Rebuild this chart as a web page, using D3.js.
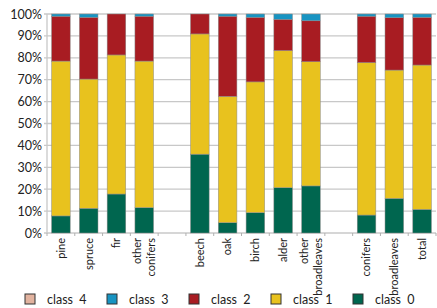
<!DOCTYPE html>
<meta charset="utf-8">
<style>
body { margin: 0; background: #fff; }
text { font-family: Lato, "Open Sans", sans-serif; fill: #222; }
.grid line { stroke: #c8c8c8; stroke-width: 1.3px; }
.bar { stroke: #8c8c8c; stroke-width: .5px; }
</style>
<body>
<script src="https://cdn.jsdelivr.net/npm/d3@7"></script>
<script>

var width = 437,
    height = 308;

// one entry per slot, null = gap between groups
var categories = [["pine"], ["spruce"], ["fir"], ["other", "conifers"], null,
                  ["beech"], ["oak"], ["birch"], ["alder"], ["other", "broadleaves"], null,
                  ["conifers"], ["broadleaves"], ["total"]];

var classes = ["class 0", "class 1", "class 2", "class 3", "class 4"];
var colors = ["#00664f", "#e8c21e", "#a81c22", "#1894c2", "#e2b39f"];

// percent shares per bar (gaps skipped)
var class0 = [7.8, 11.3, 17.8, 11.6, 36.0, 4.7, 9.3, 20.7, 21.5, 8.2, 15.8, 10.8];
var class1 = [70.7, 59.0, 63.5, 66.9, 54.9, 57.7, 59.7, 62.6, 56.7, 69.6, 58.6, 65.9];
var class2 = [20.5, 28.2, 18.7, 20.5, 9.1, 36.6, 29.5, 14.3, 18.7, 21.2, 23.9, 21.8];
var class3 = [1.0, 1.5, 0, 1.0, 0, 1.0, 1.5, 2.4, 3.1, 1.0, 1.7, 1.5];
var class4 = [0, 0, 0, 0, 0, 0, 0, 0, 0, 0, 0, 0];

var yTicks = [0, 10, 20, 30, 40, 50, 60, 70, 80, 90, 100];

var series = [class0, class1, class2, class3, class4];

var svg = d3.select("body").append("svg")
    .attr("width", width)
    .attr("height", height);

var x = d3.scaleBand()
    .domain(d3.range(categories.length))
    .range([47, 436])
    .paddingInner(0.33)
    .paddingOuter(0.165);

var y = d3.scaleLinear()
    .domain([0, 100])
    .range([233, 14]);

// rows for the stack, one per non-gap slot
var rows = [];
categories.forEach(function(c, i) {
  if (!c) return;
  var k = rows.length, r = {slot: i};
  classes.forEach(function(cl, j) { r[cl] = series[j][k]; });
  rows.push(r);
});

var stacked = d3.stack().keys(classes)(rows);

// grid
svg.append("g")
    .attr("class", "grid")
    .selectAll("line")
    .data(yTicks)
  .enter().append("line")
    .attr("x1", 44)
    .attr("x2", 436)
    .attr("y1", function(d) { return y(d); })
    .attr("y2", function(d) { return y(d); });

svg.append("line")
    .attr("x1", 47).attr("x2", 47)
    .attr("y1", y(100)).attr("y2", y(0))
    .style("stroke", "#c8c8c8").style("stroke-width", 1.3);

// x ticks at slot boundaries
var step = x.step();
svg.append("g")
    .selectAll("line")
    .data(d3.range(categories.length + 1))
  .enter().append("line")
    .attr("x1", function(i) { return 47 + i * step; })
    .attr("x2", function(i) { return 47 + i * step; })
    .attr("y1", y(0))
    .attr("y2", y(0) + 3)
    .style("stroke", "#b0b0b0")
    .style("stroke-width", 1);

svg.append("g")
    .selectAll("text")
    .data(yTicks)
  .enter().append("text")
    .attr("x", 42)
    .attr("y", function(d) { return y(d); })
    .attr("dy", "0.36em")
    .attr("text-anchor", "end")
    .style("font-size", "12.5px")
    .text(function(d) { return d + "%"; });

// bars
svg.append("g")
    .selectAll("g")
    .data(stacked)
  .enter().append("g")
    .attr("fill", function(d, i) { return colors[i]; })
    .selectAll("rect")
    .data(function(d) { return d; })
  .enter().append("rect")
    .attr("class", "bar")
    .attr("x", function(d) { return x(d.data.slot); })
    .attr("width", x.bandwidth())
    .attr("y", function(d) { return y(d[1]); })
    .attr("height", function(d) { return y(d[0]) - y(d[1]); });

// category labels, rotated
categories.forEach(function(c, i) {
  if (!c) return;
  var cx = x(i) + x.bandwidth() / 2;
  c.forEach(function(line, j) {
    var off = (j - (c.length - 1) / 2) * 13.5;
    svg.append("text")
        .attr("transform", "translate(" + (cx + off) + ",238) rotate(-90)")
        .attr("text-anchor", "end")
        .attr("dy", "0.35em")
        .style("font-size", "11px")
        .text(line);
  });
});

// legend, reversed order
var legend = svg.append("g")
    .selectAll("g")
    .data(classes.slice().reverse())
  .enter().append("g")
    .attr("transform", function(d, i) { return "translate(" + (25 + i * 82) + ",294)"; });

legend.append("rect")
    .attr("width", 10)
    .attr("height", 10)
    .attr("fill", function(d) { return colors[classes.indexOf(d)]; })
    .style("stroke", "#333")
    .style("stroke-width", 1);

legend.append("text")
    .attr("x", 22)
    .attr("y", 5)
    .attr("dy", "0.36em")
    .style("font-size", "12.5px")
    .text(function(d) { return d.replace(" ", "\u00a0 "); });

</script>
